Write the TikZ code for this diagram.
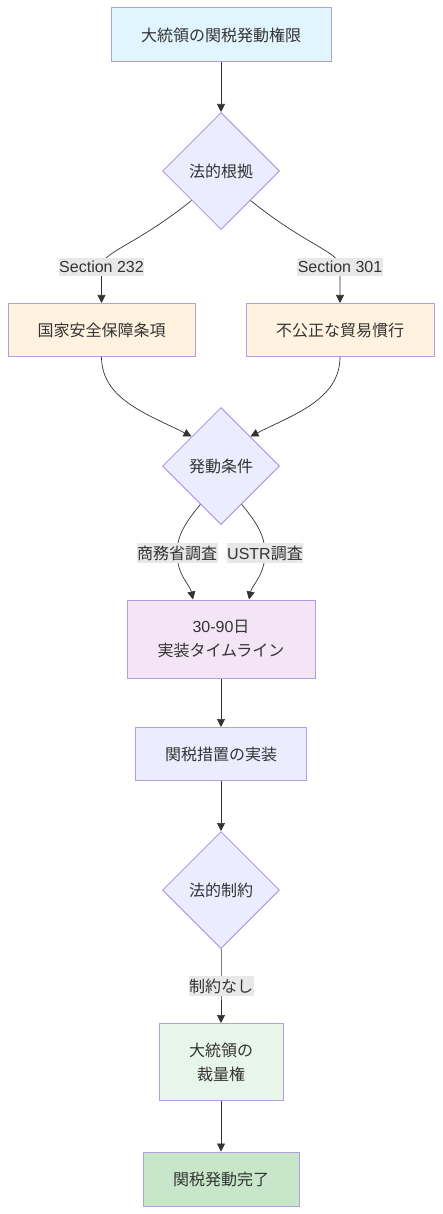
\documentclass[tikz,border=0pt]{standalone}
\usepackage{fontspec}
\setmainfont{Noto Sans CJK JP}
\newfontfamily\latin{Liberation Sans}
\usetikzlibrary{arrows.meta,calc,shapes.geometric}
\definecolor{InkGray}{HTML}{333333}
\definecolor{Lavender}{HTML}{B29DDD}
\definecolor{Periwinkle}{HTML}{ECECFF}
\definecolor{IceBlue}{HTML}{E1F5FE}
\definecolor{Peach}{HTML}{FFF3E0}
\definecolor{Lilac}{HTML}{F3E5F5}
\definecolor{Mint}{HTML}{E8F5E9}
\definecolor{Sage}{HTML}{C8E6C9}
\definecolor{LabelGray}{HTML}{E8E8E8}

\begin{document}
\begin{tikzpicture}[
  x=1pt,
  y=-1pt,
  box/.style={rectangle,draw=Lavender,line width=1pt,text=InkGray,font=\fontsize{16}{24}\selectfont,align=center,inner sep=0pt},
  choice/.style={diamond,aspect=1,draw=Lavender,fill=Periwinkle,line width=1pt,text=InkGray,font=\fontsize{16}{24}\selectfont,minimum width=117pt,minimum height=117pt,inner sep=0pt},
  edge/.style={-{Triangle[length=8pt,width=8pt]},draw=InkGray,line width=0.7pt},
  edge label/.style={fill=LabelGray,text=InkGray,font=\fontsize{16}{20}\selectfont,inner xsep=0.5pt,inner ysep=3pt}
]
  \useasboundingbox (0,0) rectangle (442,1214);

  \node[box,fill=IceBlue,minimum width=220pt,minimum height=54pt] (auth) at (221,35) {大統領の関税発動権限};
  \node[choice] (basis) at (221,171) {法的根拠};
  \node[box,fill=Peach,minimum width=187pt,minimum height=53pt] (nat) at (101.5,330) {国家安全保障条項};
  \node[box,fill=Peach,minimum width=188pt,minimum height=53pt] (unfair) at (340,330) {不公正な貿易慣行};
  \node[choice] (cond) at (221,466) {発動条件};
  \node[box,fill=Lilac,minimum width=188pt,minimum height=78pt] (time) at (221,639) {{\latin 30-90}日\\実装タイムライン};
  \node[box,fill=Periwinkle,minimum width=171pt,minimum height=53pt] (impl) at (221,754) {関税措置の実装};
  \node[choice] (limit) at (221,890) {法的制約};
  \node[box,fill=Mint,minimum width=124pt,minimum height=77pt] (disc) at (221,1062) {大統領の\\裁量権};
  \node[box,fill=Sage,minimum width=156pt,minimum height=54pt] (done) at (221,1179) {関税発動完了};

  % label spots on the connectors
  \coordinate (l232) at (101.5,267);
  \coordinate (l301) at (340,267);
  \coordinate (lcom) at (177,553);
  \coordinate (lustr) at (265,553);
  \coordinate (lnone) at (221,986);

  \draw[edge] (auth) -- (basis);
  \draw[edge] (basis.south west) .. controls (135,246) and (101.5,252) .. (l232) -- (nat);
  \draw[edge] (basis.south east) .. controls (307,246) and (340,252) .. (l301) -- (unfair);
  \draw[edge] (nat.south) .. controls (101.5,400) and (150,415) .. (cond.north west);
  \draw[edge] (unfair.south) .. controls (340,400) and (292,415) .. (cond.north east);
  \draw[edge] ($(cond.south)!0.35!(cond.west)$) .. controls (186,522) and (177,535) .. (lcom)
    .. controls (177,575) and (190,585) .. ([xshift=-28pt]time.north);
  \draw[edge] ($(cond.south)!0.35!(cond.east)$) .. controls (256,522) and (265,535) .. (lustr)
    .. controls (265,575) and (252,585) .. ([xshift=28pt]time.north);
  \draw[edge] (time) -- (impl);
  \draw[edge] (impl) -- (limit);
  \draw[edge] (limit) -- (lnone) -- (disc);
  \draw[edge] (disc) -- (done);

  \node[edge label] at (l232) {\latin Section 232};
  \node[edge label] at (l301) {\latin Section 301};
  \node[edge label] at (lcom) {商務省調査};
  \node[edge label] at (lustr) {{\latin USTR}調査};
  \node[edge label] at (lnone) {制約なし};
\end{tikzpicture}
\end{document}
